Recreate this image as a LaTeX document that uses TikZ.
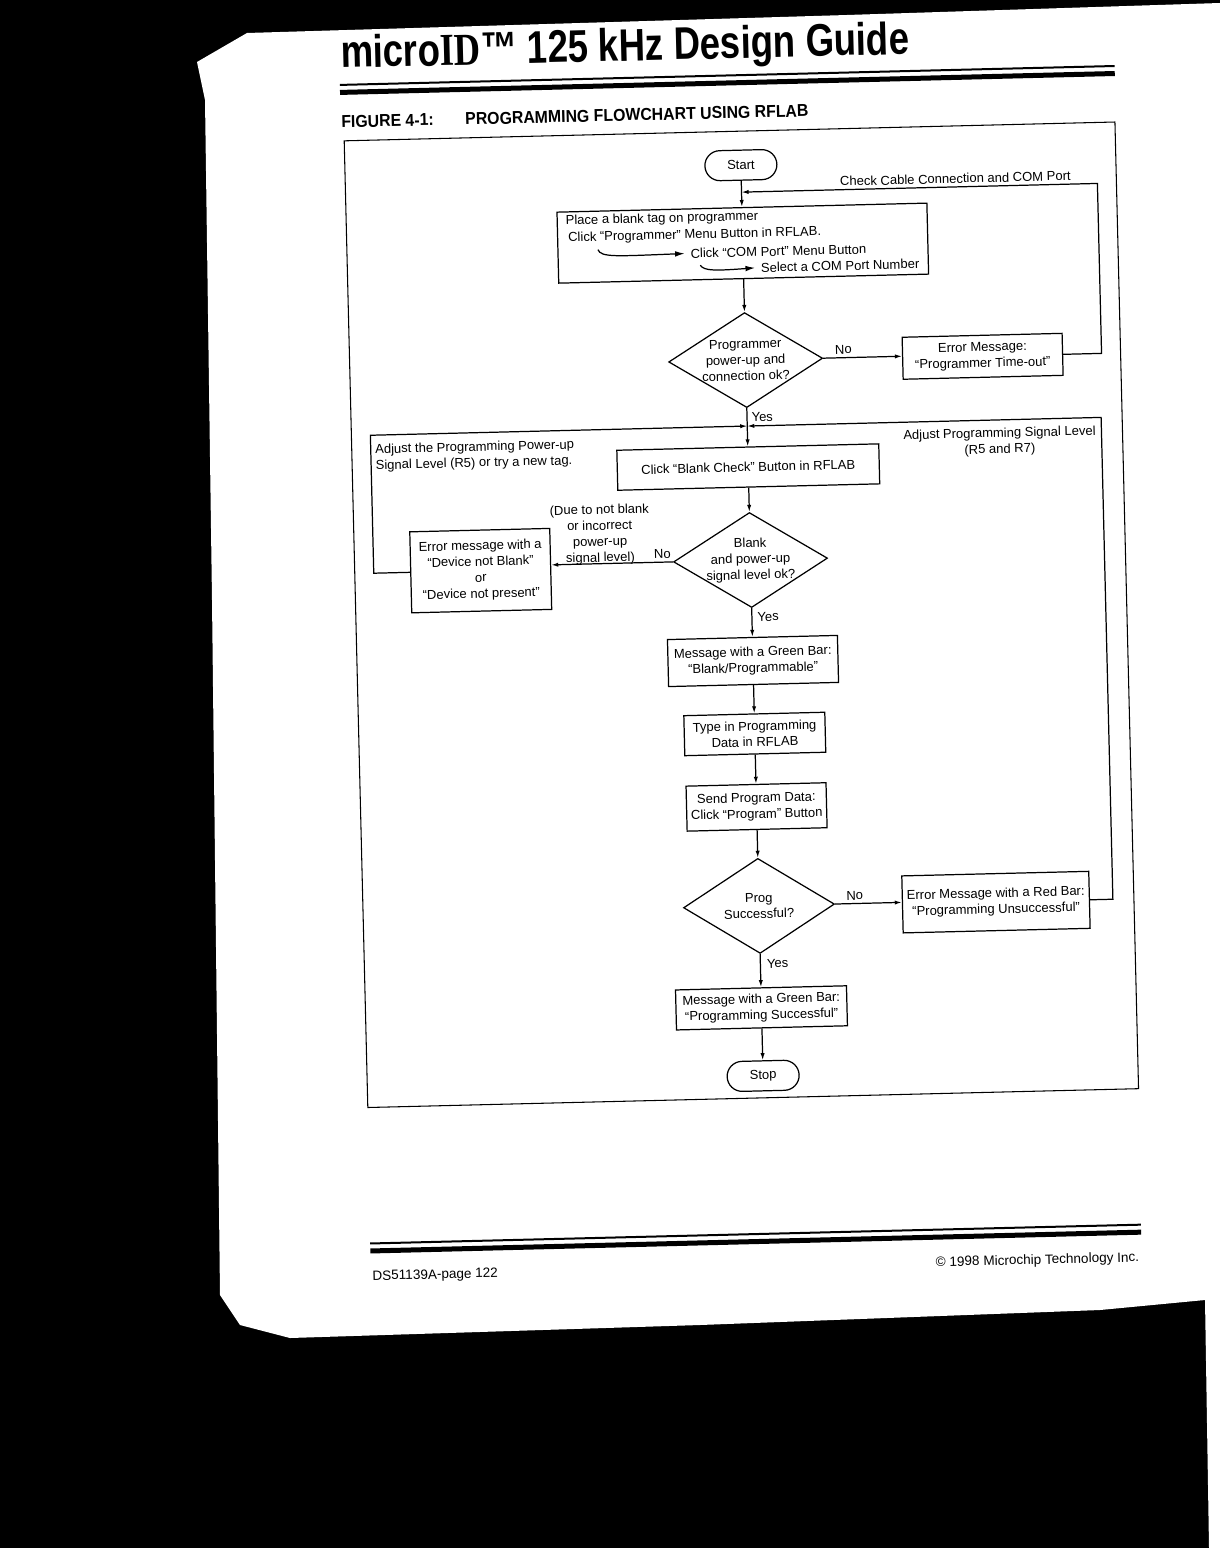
\documentclass[tikz,border=0pt]{standalone}
\usepackage{fontspec}
\setmainfont{Liberation Sans}
\newfontfamily\titlefont[FakeStretch=0.8]{Liberation Sans}
\newfontfamily\titleserif[FakeStretch=0.8]{Liberation Serif}
\newfontfamily\capfont[FakeStretch=0.92]{Liberation Sans}
\usetikzlibrary{shapes.geometric, shapes.misc, arrows.meta, positioning}

\begin{document}
\begin{tikzpicture}[x=0.2mm, y=-0.2mm, line width=0.7pt,
    font=\fontsize{7.4}{9.1}\selectfont,
    flow/.style={-{Latex[length=4pt,width=2.4pt]}},
    bigflow/.style={-{Latex[length=5.5pt,width=3.2pt]}},
    termbox/.style={draw, rounded rectangle, minimum width=72*0.2mm, minimum height=30*0.2mm, inner sep=0pt},
    stepbox/.style 2 args={draw, align=center, inner sep=0pt, minimum width=#1*0.2mm, minimum height=#2*0.2mm},
    decide/.style={draw, diamond, inner sep=0pt, minimum width=#1*0.2mm, minimum height=95*0.2mm},
    lbl/.style={inner sep=0pt, align=center}]

  \fill[black] (0,0) rectangle (1220,1548);
  \fill[white] (197,62) -- (247,33) -- (447,27) -- (847,15) -- (1220,3) -- (1220,1548) -- (1209,1548)
    -- (1205,1300) -- (1100,1310) -- (700,1325) -- (290,1338) -- (240,1325) -- (220,1295)
    -- (212,600) -- (205,100) -- cycle;
  \useasboundingbox (0,0) rectangle (1220,1548);

  \begin{scope}[rotate around={1.4:(752,620)}, transform shape]
    % page head
    \node[anchor=base west, inner sep=0pt, font=\titlefont\fontsize{26}{26}\selectfont\bfseries] (title) at (354,58)
      {micro{\titleserif ID}™ 125 kHz Design Guide};
    \fill (353,74) rectangle (1128,76);
    \fill (353,80) rectangle (1128,85);
    \node[anchor=base west, inner sep=0pt, font=\capfont\fontsize{9.8}{10}\selectfont\bfseries] (fignum) at (353,118) {FIGURE 4-1:};
    \node[anchor=base west, inner sep=0pt, font=\capfont\fontsize{9.8}{10}\selectfont\bfseries] (figname) at (477,118) {PROGRAMMING FLOWCHART USING RFLAB};
    \draw[line width=0.6pt] (356,131) rectangle (1127,1098);

    % flowchart
    \node[termbox] (start) at (752,165) {Start};
    \node[stepbox={370}{71}] (prog) at (752,243) {};
    \node[lbl, anchor=west] (prog1) at (575,217) {Place a blank tag on programmer};
    \node[lbl, anchor=west] (prog2) at (577,234) {Click “Programmer” Menu Button in RFLAB.};
    \node[lbl, anchor=west] (prog3) at (699,252) {Click “COM Port” Menu Button};
    \node[lbl, anchor=west] (prog4) at (769,268) {Select a COM Port Number};
    \coordinate (tail1) at (607,246);
    \coordinate (tail2) at (709,264);
    \draw[bigflow] (tail1) .. controls (610,254) and (625,253) .. ([xshift=-3pt]prog3.west);
    \draw[bigflow] (tail2) .. controls (712,270) and (725,270) .. ([xshift=-3pt]prog4.west);

    \node[decide=154, label={[lbl]center:Programmer\\power-up and\\connection ok?}] (conn) at (752,360) {};
    \node[stepbox={160}{42}] (err1) at (989,362) {Error Message:\\“Programmer Time-out”};
    \node[stepbox={262}{40}] (blank) at (752,467) {Click “Blank Check” Button in RFLAB};
    \node[decide=154, label={[lbl]center:Blank\\and power-up\\signal level ok?}] (blankok) at (752,560) {};
    \node[stepbox={140}{81}] (err2) at (482,564) {Error message with a\\“Device not Blank”\\or\\“Device not present”};
    \node[stepbox={170}{47}] (green1) at (752,661) {Message with a Green Bar:\\“Blank/Programmable”};
    \node[stepbox={141}{40}] (typein) at (752,734) {Type in Programming\\Data in RFLAB};
    \node[stepbox={140}{45}] (send) at (752,807) {Send Program Data:\\Click “Program” Button};
    \node[decide=151, label={[lbl]center:Prog\\Successful?}] (success) at (752,906) {};
    \node[stepbox={187}{57}] (err3) at (989,908) {Error Message with a Red Bar:\\“Programming Unsuccessful”};
    \node[stepbox={171}{40}] (green2) at (752,1008) {Message with a Green Bar:\\“Programming Successful”};
    \node[termbox] (stop) at (752,1076) {Stop};

    \foreach \a/\b in {start/prog, prog/conn, conn/blank, blank/blankok, blankok/green1,
        green1/typein, typein/send, send/success, success/green2, green2/stop}
      \draw[flow] (\a) -- (\b);

    \draw[flow] (conn.east) -- (conn.east -| err1.west);
    \draw[flow] (blankok.west) -- (blankok.west -| err2.east);
    \draw[flow] (success.east) -- (success.east -| err3.west);

    \coordinate (cable) at (1108,192);
    \coordinate (merge) at (752,426);
    \coordinate (lefttop) at (375,426);
    \coordinate (righttop) at (1106,426);
    \draw[flow] (err1.east) -| (cable) -- (cable -| start);
    \draw[flow] (err2.west) -| (lefttop) -- (merge);
    \draw[flow] (err3.east) -| (righttop) -- (merge);

    \node[lbl, anchor=south east] (cablelbl) at (1082,189) {Check Cable Connection and COM Port};
    \node[lbl, anchor=south] (no1) at (850,357) {No};
    \node[lbl, anchor=west] (yes1) at (756,417) {Yes};
    \node[lbl, anchor=west, align=left] (adjpow) at (379,449) {Adjust the Programming Power-up\\Signal Level (R5) or try a new tag.};
    \node[lbl] (adjsig) at (1004,448) {Adjust Programming Signal Level\\(R5 and R7)};
    \node[lbl] (due) at (602,531) {(Due to not blank\\or incorrect\\power-up\\signal level)};
    \node[lbl, anchor=south east] (no2) at (673,557) {No};
    \node[lbl, anchor=west] (yes2) at (757,617) {Yes};
    \node[lbl, anchor=south] (no3) at (848,903) {No};
    \node[lbl, anchor=west] (yes3) at (758,964) {Yes};

    % page foot
    \fill (355,1233) rectangle (1126,1235);
    \fill (355,1239) rectangle (1126,1244);
    \node[anchor=base west, inner sep=0pt, font=\fontsize{7.7}{9}\selectfont] (docnum) at (356,1271) {DS51139A-page 122};
    \node[anchor=base east, inner sep=0pt, font=\fontsize{7.7}{9}\selectfont] (copy) at (1124,1271) {© 1998 Microchip Technology Inc.};
  \end{scope}
\end{tikzpicture}
\end{document}
